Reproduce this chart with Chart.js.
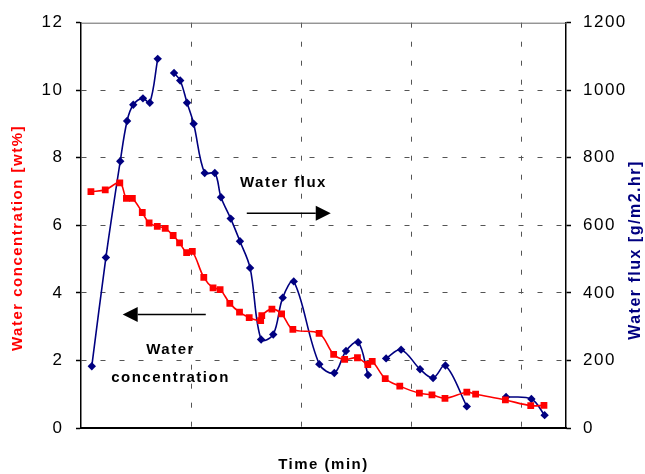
<!DOCTYPE html>
<html>
<head>
<meta charset="utf-8">
<script src="https://cdn.jsdelivr.net/npm/chart.js@4.4.1/dist/chart.umd.min.js"></script>
<style>
  html, body { margin: 0; padding: 0; background: #fff; }
  #wrap { width: 645px; height: 474px; }
</style>
</head>
<body>
<div id="wrap"><canvas id="chart"></canvas></div>
<script>
// -- data --
const concTime = [4.5, 11.0, 17.6, 20.6, 23.3, 27.8, 30.9, 34.6, 38.2, 41.8, 44.7, 47.9, 50.5, 55.7, 59.9, 63.1,
  67.5, 71.9, 76.3, 81.5, 82.0, 86.6, 91.0, 96.1, 108.0, 114.6, 119.6, 125.4, 130.1, 132.1, 138.0, 144.6,
  153.5, 159.2, 165.1, 175.0, 179.0, 192.5, 204.0, 210.0];
const concValues = [7.00, 7.05, 7.26, 6.80, 6.80, 6.38, 6.07, 5.97, 5.91, 5.70, 5.48, 5.19, 5.23, 4.46, 4.15, 4.10,
  3.69, 3.43, 3.27, 3.18, 3.33, 3.52, 3.38, 2.92, 2.80, 2.18, 2.03, 2.08, 1.88, 1.97, 1.46, 1.24,
  1.03, 0.98, 0.88, 1.06, 1.00, 0.83, 0.66, 0.67];

// null = break in the flux line
const fluxTime = [4.9, 11.3, 17.8, 20.9, 23.7, 28.1, 31.2, 34.8, 38.5, 42.2, 45.0, 48.1, 51.1, 56.1, 60.7, 63.5,
  67.9, 72.1, 76.7, 81.7, 87.2, 91.5, 96.5, 108.1, 114.9, 120.2, 125.7, 130.2, 134.3, 138.4, 145.2, 153.8,
  159.7, 165.3, 175.0, 184.0, 192.8, 204.3, 210.3];
const fluxValues = [183, 505, 790, 909, 957, 976, 963, 1093, null, 1051, 1029, 963, 901, 755, 755, 683,
  620, 553, 474, 262, 277, 386, 434, 189, 163, 228, 254, 157, null, 206, 232, 174,
  148, 185, 64, null, 92, 86, 38];

const timeRange = [0, 220];
const concRange = [0, 12];
const fluxRange = [0, 1200];

// annotations (in time / concentration units)
const notes = [
  { text: 'Water flux', x: 72.1, y: 7.27, align: 'left' },
  { text: 'Water', x: 40.6, y: 2.31, align: 'center' },
  { text: 'concentration', x: 40.6, y: 1.48, align: 'center' }
];
const arrows = [
  { from: [75.2, 6.36], to: [113.3, 6.36] },
  { from: [56.6, 3.36], to: [18.9, 3.36] }
];

const RED = '#ff0000';
const NAVY = '#000080';
const SPACING = '1.5px';
const FONT = 'Arial, "Liberation Sans", sans-serif';

const gridColor = (lo, hi) => c => (c.tick.value > lo && c.tick.value < hi) ? '#555' : 'rgba(0,0,0,0)';

// -- extras: spacing, top border, axis titles, notes --
const extras = {
  id: 'extras',
  beforeDraw(chart) {
    chart.ctx.letterSpacing = SPACING;
  },
  beforeDatasetsDraw(chart) {
    const { ctx, chartArea: a } = chart;
    ctx.save();
    ctx.strokeStyle = '#666';
    ctx.lineWidth = 1;
    ctx.beginPath(); ctx.moveTo(a.left, a.top + 0.5); ctx.lineTo(a.right, a.top + 0.5); ctx.stroke();
    ctx.restore();
  },
  afterDraw(chart) {
    const { ctx, scales: { x, y } } = chart;
    ctx.save();
    ctx.letterSpacing = SPACING;
    ctx.textBaseline = 'middle';

    // axis titles, both read bottom to top
    const side = (text, cx, cy, color, size) => {
      ctx.save();
      ctx.translate(cx, cy);
      ctx.rotate(-Math.PI / 2);
      ctx.textAlign = 'center';
      ctx.fillStyle = color;
      ctx.font = `bold ${size}px ${FONT}`;
      ctx.fillText(text, 0, 0);
      ctx.restore();
    };
    side('Water concentration [wt%]', 18, 238, RED, 15);
    side('Water flux [g/m2.hr]', 636, 250, NAVY, 16);

    ctx.fillStyle = '#000';
    ctx.font = `bold 15px ${FONT}`;
    notes.forEach(n => {
      ctx.textAlign = n.align;
      ctx.fillText(n.text, x.getPixelForValue(n.x), y.getPixelForValue(n.y));
    });

    ctx.strokeStyle = '#000';
    ctx.lineWidth = 1.5;
    arrows.forEach(ar => {
      const x0 = x.getPixelForValue(ar.from[0]), y0 = y.getPixelForValue(ar.from[1]);
      const x1 = x.getPixelForValue(ar.to[0]), y1 = y.getPixelForValue(ar.to[1]);
      const dir = Math.sign(x1 - x0), head = 15, half = 7.5;
      ctx.beginPath(); ctx.moveTo(x0, y0); ctx.lineTo(x1 - dir * head, y1); ctx.stroke();
      ctx.beginPath();
      ctx.moveTo(x1, y1);
      ctx.lineTo(x1 - dir * head, y1 - half);
      ctx.lineTo(x1 - dir * head, y1 + half);
      ctx.closePath(); ctx.fill();
    });
    ctx.restore();
  }
};

new Chart(document.getElementById('chart'), {
  type: 'line',
  data: {
    datasets: [
      {
        label: 'Water concentration',
        data: concTime.map((t, i) => ({ x: t, y: concValues[i] })),
        yAxisID: 'y',
        borderColor: RED, backgroundColor: RED, borderWidth: 1.6,
        pointStyle: 'rect', pointRadius: 4.8, pointBorderWidth: 0,
        tension: 0.35
      },
      {
        label: 'Water flux',
        data: fluxTime.map((t, i) => ({ x: t, y: fluxValues[i] })),
        yAxisID: 'y1',
        borderColor: NAVY, backgroundColor: NAVY, borderWidth: 1.6,
        pointStyle: 'rectRot', pointRadius: 4.2, pointBorderWidth: 0,
        tension: 0.35, spanGaps: false
      }
    ]
  },
  options: {
    responsive: true, maintainAspectRatio: false, animation: false,
    layout: { padding: { top: 22, right: 0, bottom: 0, left: 0 } },
    plugins: { legend: { display: false }, tooltip: { enabled: false } },
    scales: {
      x: {
        type: 'linear', min: timeRange[0], max: timeRange[1],
        ticks: { stepSize: 50, display: false },
        grid: { color: gridColor(timeRange[0], timeRange[1]), lineWidth: 1, drawTicks: false },
        border: { color: '#000', width: 2, dash: [5, 14] },
        title: {
          display: true, text: 'Time (min)', color: '#000',
          font: { family: FONT, size: 15, weight: 'bold' }, padding: { top: 0, bottom: 0 }
        },
        afterFit(s) { s.height = 46; }
      },
      y: {
        position: 'left', min: concRange[0], max: concRange[1],
        ticks: { stepSize: 2, color: '#000', padding: 12.5, font: { family: FONT, size: 17 } },
        grid: { color: gridColor(concRange[0], concRange[1]), lineWidth: 1, tickLength: 5, tickColor: '#000', tickWidth: 1.5 },
        border: { color: '#000', width: 1.5, dash: [5, 14] },
        afterFit(s) { s.width = 81; }
      },
      y1: {
        position: 'right', min: fluxRange[0], max: fluxRange[1],
        ticks: { stepSize: 200, color: '#000', padding: 12, font: { family: FONT, size: 17 }, callback: v => String(v) },
        grid: { drawOnChartArea: false, tickLength: 5, tickColor: '#000', tickWidth: 1.5 },
        border: { color: '#000', width: 1.5 },
        afterFit(s) { s.width = 79; }
      }
    }
  },
  plugins: [extras]
});
</script>
</body>
</html>
